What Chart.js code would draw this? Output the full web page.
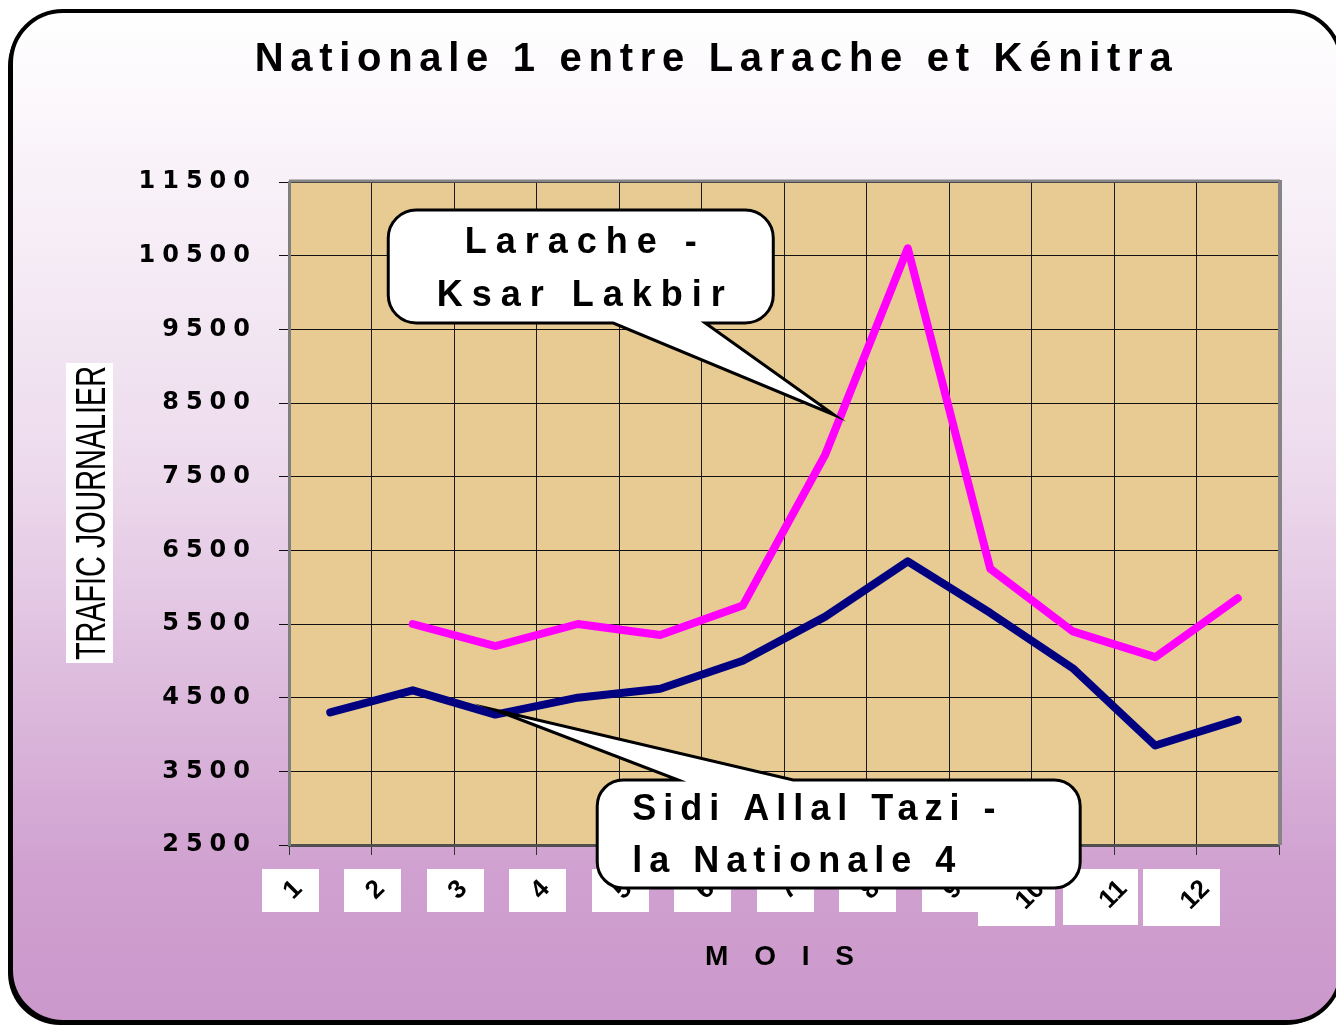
<!DOCTYPE html>
<html>
<head>
<meta charset="utf-8">
<script src="https://cdn.jsdelivr.net/npm/chart.js@4.4.1/dist/chart.umd.min.js"></script>
<style>
html,body{margin:0;padding:0;background:#fff;}
canvas{display:block;}
</style>
</head>
<body>
<canvas id="c" width="1336" height="1030"></canvas>
<script>
// ---- data ----
const months = ['1','2','3','4','5','6','7','8','9','10','11','12'];
const laracheKsar = [null, 5500, 5200, 5500, 5350, 5750, 7800, 10600, 6250, 5400, 5050, 5850];
const sidiAllalTazi = [4300, 4600, 4270, 4500, 4620, 5000, 5600, 6350, 5650, 4900, 3850, 4200];
const yTickValues = [2500, 3500, 4500, 5500, 6500, 7500, 8500, 9500, 10500, 11500];
const chartTitle = 'Nationale 1 entre Larache et Kénitra';
const yAxisTitle = 'TRAFIC JOURNALIER';
const xAxisTitle = 'M O I S';
const calloutLaracheText = ['Larache -', 'Ksar Lakbir'];
const calloutSidiText = ['Sidi Allal Tazi -', 'la Nationale 4'];

// ---- styling / annotation geometry (in data coordinates) ----
const FONT = '"Liberation Sans", Arial, Helvetica, sans-serif';
const TICK_FONT = '"DejaVu Sans", "Liberation Sans", sans-serif';
const callouts = [
  { lines: calloutLaracheText, box: {x0: 0.703, x1: 5.37, y0: 11120, y1: 9586}, radius: 28,
    side: 'bottom', baseA: 3.43, baseB: 4.545, tip: {x: 6.11, y: 8337},
    align: 'center', spacing: 9, textDy: [33, 86] },
  { lines: calloutSidiText, box: {x0: 3.236, x1: 9.09, y0: 3382, y1: 1916}, radius: 26,
    side: 'top', baseA: 4.218, baseB: 5.612, tip: {x: 2.0, y: 4333},
    align: 'left', textDx: 35, spacing: 7, textDy: [30, 82] }
];
const X_LABEL_OFFSET = -32, X_TICK_PAD = 19, X_TICK_LEN = 10, X_FONT_SIZE = 26;
const TITLE_SHIFT = 67;

function wrapDraw(obj, method, spacing, dx) {
  if (!obj || obj['__ls_' + method]) return;
  const orig = obj[method];
  obj[method] = function (...args) {
    const ctx = this.ctx;
    ctx.save();
    ctx.letterSpacing = spacing;
    if (dx) ctx.translate(dx, 0);
    const r = orig.apply(this, args);
    ctx.restore();
    return r;
  };
  obj['__ls_' + method] = true;
}

function roundRectPath(ctx, x, y, w, h, r) {
  ctx.beginPath();
  ctx.moveTo(x + r, y);
  ctx.arcTo(x + w, y, x + w, y + h, r);
  ctx.arcTo(x + w, y + h, x, y + h, r);
  ctx.arcTo(x, y + h, x, y, r);
  ctx.arcTo(x, y, x + w, y, r);
  ctx.closePath();
}

function calloutPath(ctx, l, t, r, b, rad, side, a, bb, tx, ty) {
  ctx.beginPath();
  ctx.moveTo(l + rad, t);
  if (side === 'top') { ctx.lineTo(a, t); ctx.lineTo(tx, ty); ctx.lineTo(bb, t); }
  ctx.lineTo(r - rad, t);
  ctx.arcTo(r, t, r, t + rad, rad);
  ctx.lineTo(r, b - rad);
  ctx.arcTo(r, b, r - rad, b, rad);
  if (side === 'bottom') { ctx.lineTo(bb, b); ctx.lineTo(tx, ty); ctx.lineTo(a, b); }
  ctx.lineTo(l + rad, b);
  ctx.arcTo(l, b, l, b - rad, rad);
  ctx.lineTo(l, t + rad);
  ctx.arcTo(l, t, l + rad, t, rad);
  ctx.closePath();
}

const decor = {
  id: 'decor',
  beforeDraw(chart) {
    const ctx = chart.ctx;
    const W = chart.width, H = chart.height;
    wrapDraw(chart.titleBlock, 'draw', '6.7px', TITLE_SHIFT);
    wrapDraw(chart.scales.y, 'drawLabels', '7px', 0);
    wrapDraw(chart.scales.x, 'drawTitle', '9px', 0);

    ctx.save();
    ctx.fillStyle = '#ffffff';
    ctx.fillRect(0, 0, W, H);
    // frame shadow
    roundRectPath(ctx, 8, 14, 1330, 1011, 52);
    ctx.fillStyle = '#000';
    ctx.fill();
    // frame
    roundRectPath(ctx, 11, 11, 1330, 1011, 52);
    const g = ctx.createLinearGradient(0, 11, 0, 1022);
    g.addColorStop(0, '#ffffff');
    g.addColorStop(0.45, '#eddbed');
    g.addColorStop(0.85, '#d0a1d0');
    g.addColorStop(1, '#cb98cb');
    ctx.fillStyle = g;
    ctx.fill();
    ctx.lineWidth = 4;
    ctx.strokeStyle = '#000';
    ctx.stroke();

    // plot area (papyrus tone)
    const a = chart.chartArea;
    ctx.fillStyle = '#e7cb93';
    ctx.fillRect(a.left, a.top, a.right - a.left, a.bottom - a.top);

    // white boxes behind x tick labels
    const xs = chart.scales.x;
    ctx.font = 'bold ' + X_FONT_SIZE + 'px ' + FONT;
    const L = X_FONT_SIZE * 1.2;
    const s = Math.SQRT1_2;
    ctx.fillStyle = '#ffffff';
    xs.ticks.forEach((t, i) => {
      const lbl = String(months[i]);
      const w = ctx.measureText(lbl).width;
      const ax = xs.getPixelForTick(i) + X_LABEL_OFFSET - (L / 2) * s;
      const ay = xs.top + X_TICK_LEN + X_TICK_PAD;
      const cx = ax + s * (-w / 2 + L / 2);
      const bw = 37 + 1.38 * w, bh = 29 + 0.97 * w;
      const bcx = cx + 8 - 0.76 * w;
      ctx.fillRect(Math.round(bcx - bw / 2), Math.round(ay - 5), Math.round(bw), Math.round(bh));
    });
    ctx.restore();
  },
  beforeDatasetsDraw(chart) {
    const ctx = chart.ctx, a = chart.chartArea;
    ctx.save();
    ctx.strokeStyle = '#858585';
    ctx.lineWidth = 3;
    ctx.beginPath();
    ctx.moveTo(a.left, a.top - 1);
    ctx.lineTo(a.right + 1, a.top - 1);
    ctx.stroke();
    ctx.lineWidth = 4;
    ctx.beginPath();
    ctx.moveTo(a.right + 1, a.top - 2);
    ctx.lineTo(a.right + 1, a.bottom);
    ctx.stroke();
    ctx.restore();
  },
  afterDraw(chart) {
    const ctx = chart.ctx;
    const xs = chart.scales.x, ys = chart.scales.y;
    ctx.save();
    // y axis title in white box, condensed
    ctx.fillStyle = '#ffffff';
    ctx.fillRect(66, 363, 47, 300);
    ctx.translate(90, 513);
    ctx.rotate(-Math.PI / 2);
    ctx.font = '42px ' + FONT;
    const tw = ctx.measureText(yAxisTitle).width;
    ctx.scale(294 / tw, 1);
    ctx.fillStyle = '#000';
    ctx.textAlign = 'center';
    ctx.textBaseline = 'alphabetic';
    ctx.fillText(yAxisTitle, 0, 15);
    ctx.restore();

    // callouts
    callouts.forEach(c => {
      const l = xs.getPixelForValue(c.box.x0), r = xs.getPixelForValue(c.box.x1);
      const t = ys.getPixelForValue(c.box.y0), b = ys.getPixelForValue(c.box.y1);
      const pa = xs.getPixelForValue(c.baseA), pb = xs.getPixelForValue(c.baseB);
      const tx = xs.getPixelForValue(c.tip.x), ty = ys.getPixelForValue(c.tip.y);
      ctx.save();
      calloutPath(ctx, l, t, r, b, c.radius, c.side, pa, pb, tx, ty);
      ctx.fillStyle = '#ffffff';
      ctx.fill();
      ctx.lineWidth = 3;
      ctx.lineJoin = 'miter';
      ctx.miterLimit = 20;
      ctx.strokeStyle = '#000';
      ctx.stroke();
      ctx.fillStyle = '#000';
      ctx.font = 'bold 36px ' + FONT;
      ctx.letterSpacing = c.spacing + 'px';
      ctx.textBaseline = 'middle';
      c.lines.forEach((line, i) => {
        if (c.align === 'center') {
          ctx.textAlign = 'center';
          ctx.fillText(line, (l + r) / 2 + c.spacing / 2, t + c.textDy[i]);
        } else {
          ctx.textAlign = 'left';
          ctx.fillText(line, l + c.textDx, t + c.textDy[i]);
        }
      });
      ctx.restore();
    });
  }
};

new Chart(document.getElementById('c'), {
  type: 'line',
  data: {
    labels: months,
    datasets: [
      { label: 'Larache - Ksar Lakbir', data: laracheKsar, borderColor: '#ff00ff', backgroundColor: '#ff00ff',
        borderWidth: 8, pointRadius: 0, tension: 0, borderCapStyle: 'round', borderJoinStyle: 'round', spanGaps: false },
      { label: 'Sidi Allal Tazi - la Nationale 4', data: sidiAllalTazi, borderColor: '#000080', backgroundColor: '#000080',
        borderWidth: 8, pointRadius: 0, tension: 0, borderCapStyle: 'round', borderJoinStyle: 'round' }
    ]
  },
  options: {
    responsive: false,
    animation: false,
    devicePixelRatio: 1,
    layout: { padding: { left: 20, right: 57, top: 0, bottom: 0 } },
    plugins: {
      legend: { display: false },
      tooltip: { enabled: false },
      title: {
        display: true, text: chartTitle, color: '#000',
        font: { family: FONT, size: 40, weight: 'bold' },
        padding: { top: 36, bottom: 98 }
      }
    },
    scales: {
      x: {
        type: 'category',
        offset: true,
        grid: { display: true, offset: true, color: '#1a1a1a', lineWidth: 1, drawTicks: true, tickLength: X_TICK_LEN, tickColor: '#333' },
        border: { display: true, color: '#505050', width: 3 },
        ticks: {
          color: '#000', font: { family: FONT, size: X_FONT_SIZE, weight: 'bold' },
          minRotation: 45, maxRotation: 45, autoSkip: false,
          labelOffset: X_LABEL_OFFSET, padding: X_TICK_PAD
        },
        title: {
          display: true, text: xAxisTitle, color: '#000',
          font: { family: FONT, size: 28, weight: 'bold' },
          padding: { top: 0, bottom: 56 }
        },
        afterFit(s) { s.height = 185; }
      },
      y: {
        min: yTickValues[0], max: yTickValues[yTickValues.length - 1],
        afterBuildTicks(s) { s.ticks = yTickValues.map(v => ({ value: v })); },
        grid: { color: '#111', lineWidth: 1, drawTicks: true, tickLength: 10, tickColor: '#111' },
        border: { display: true, color: '#808080', width: 3 },
        ticks: { color: '#000', font: { family: TICK_FONT, size: 24, weight: 'bold' }, padding: 22,
                 callback: v => String(v) },
        title: { display: false },
        afterFit(s) { s.width = 269; }
      }
    }
  },
  plugins: [decor]
});
</script>
</body>
</html>
